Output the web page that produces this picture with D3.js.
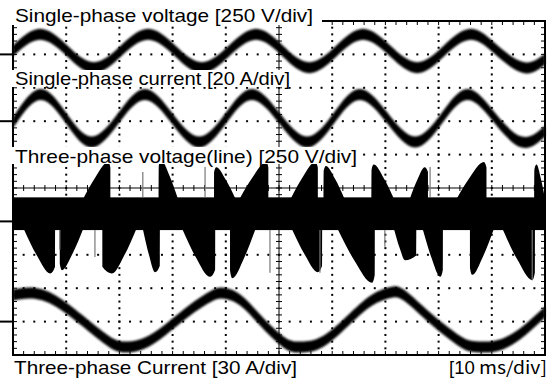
<!DOCTYPE html>
<html>
<head>
<meta charset="utf-8">
<script src="https://cdn.jsdelivr.net/npm/d3@7"></script>
<style>
  body { margin: 0; background: #fff; }
  svg { display: block; font-family: "Liberation Sans", Arial, sans-serif; }
</style>
</head>
<body>
<svg id="chart" width="555" height="380"></svg>
<script>
// 10 ms/div, 10 divisions across, 10 down
const timeDomain = [0, 100];

// single-phase voltage, V (250 V/div)
const ch1Time = [0, 5.1, 10.2, 15.2, 20.3, 25.4, 30.5, 35.5, 40.6, 45.7, 50.7, 55.7, 60.8, 65.8, 70.9, 76.0, 81.0, 86.1, 91.1, 96.2, 100];
const ch1Volt = [25, 150, 25, -100, 25, 150, 25, -100, 25, 150, 25, -100, 25, 150, 25, -100, 25, 150, 25, -100, -35];

// single-phase current, A (20 A/div)
const ch2Time = [0, 5.1, 10.0, 14.8, 19.8, 24.8, 29.9, 35.0, 40.0, 44.9, 50.1, 55.3, 60.3, 65.2, 70.4, 75.6, 80.6, 85.5, 90.6, 95.7, 100];
const ch2Amp = [-1, 16, 1.7, -12.5, 1.7, 16, 1.7, -12.5, 1.7, 16, 1.7, -12.5, 1.7, 16, 1.7, -12.5, 1.7, 16, 1.7, -12.5, -6];

// three-phase line voltage, V (250 V/div): solid PWM band plus lobes
const ch3Band = [-65, 180];
// [start ms, tip ms, end ms, tip V]
const ch3UpLobes = [
  [13.2, 17.9, 18.3, 445], [27.4, 27.8, 31.0, 460], [37.8, 38.2, 41.8, 405],
  [42.6, 47.6, 48.0, 445], [52.2, 56.8, 57.3, 445], [58.4, 58.8, 62.3, 415],
  [67.4, 67.8, 71.6, 425], [74.6, 77.4, 78.0, 405], [83.4, 88.5, 89.0, 445],
  [98.0, 98.4, 100, 425]
];
const ch3DownLobes = [
  [2.0, 7.0, 7.9, -390], [8.8, 9.2, 13.2, -365], [16.8, 18.6, 23.2, -390],
  [24.4, 26.7, 27.6, -380], [31.8, 37.0, 38.0, -415], [40.8, 41.2, 45.6, -425],
  [52.4, 57.3, 58.1, -380], [61.0, 67.5, 68.0, -460], [71.6, 73.7, 75.8, -290],
  [77.0, 80.3, 80.8, -415], [85.9, 86.3, 90.4, -400], [92.0, 97.6, 98.1, -440]
];
// thin grey switching spikes [ms, V from, V to]
const ch3Spikes = [
  [24.4, 180, 370], [36.1, 180, 408], [78.4, 180, 408],
  [8.8, -65, -213], [15.4, -65, -266], [48.3, -65, -385],
  [57.7, -65, -385], [69.9, -65, -190], [97.6, -65, -440]
];

// three-phase current, A (30 A/div)
const ch4Time = [0, 3.2, 7.0, 11.7, 16.4, 19.2, 21.6, 24.8, 28.6, 33.3, 37.0, 39.3, 42.7, 46.8, 51.1, 53.9, 57.3, 61.5, 66.2, 69.4, 71.4, 73.7, 78.4, 83.1, 85.9, 88.7, 91.5, 95.3, 100];
const ch4Amp = [23.9, 25.7, 21.2, 6.0, -12.0, -21.0, -22.8, -19.2, -7.5, 10.4, 22.1, 25.7, 19.4, -0.4, -19.2, -22.8, -20.1, -5.7, 14.9, 23.9, 26.6, 23.0, 3.2, -14.7, -21.9, -22.8, -21.0, -11.1, 8.6];

const channelNames = [
  'Single-phase voltage [250 V/div]',
  'Single-phase current [20 A/div]',
  'Three-phase voltage(line) [250 V/div]',
  'Three-phase Current [30 A/div]'
];
const channelPerDiv = [250, 20, 250, 30];
const channelZeroDiv = [1, 3, 6, 9];
const timeLabel = ['[10 ', 'ms/div]'];

// ---- layout
const plotLeft = 13, plotRight = 545, plotTop = 21, plotBottom = 355;
const nx = 10, ny = 10;
const divW = (plotRight - plotLeft) / nx, divH = (plotBottom - plotTop) / ny;

const svg = d3.select('#chart');
const x = d3.scaleLinear().domain(timeDomain).range([plotLeft, plotRight]);
const yFor = i => {
  const z = plotTop + channelZeroDiv[i] * divH;
  return d3.scaleLinear().domain([0, channelPerDiv[i]]).range([z, z - divH]);
};
const y1 = yFor(0), y2 = yFor(1), y3 = yFor(2), y4 = yFor(3);

const defs = svg.append('defs');
defs.append('filter').attr('id', 'fuzz').attr('x', -0.05).attr('y', -0.2).attr('width', 1.1).attr('height', 1.4)
  .append('feGaussianBlur').attr('stdDeviation', 0.9);
defs.append('filter').attr('id', 'soft')
  .append('feGaussianBlur').attr('stdDeviation', 0.5);

// ---- graticule dots
const dots = svg.append('g').attr('fill', '#000');
d3.range(1, ny).filter(k => k !== 5).forEach(k => {
  const yy = plotTop + k * divH;
  dots.selectAll(null).data(d3.range(1, nx * 5)).enter().append('rect')
    .attr('x', j => plotLeft + j * divW / 5 - 1).attr('y', yy - 1)
    .attr('width', 2).attr('height', 2);
});
d3.range(1, nx).filter(k => k !== 5).forEach(k => {
  const xx = plotLeft + k * divW;
  dots.selectAll(null).data(d3.range(1, ny * 5)).enter().append('rect')
    .attr('x', xx - 1).attr('y', j => plotTop + j * divH / 5 - 1)
    .attr('width', 2).attr('height', 2);
});

// centre cross with minor ticks
const cx = plotLeft + 5 * divW, cy = plotTop + 5 * divH;
const cross = svg.append('g').attr('stroke', '#000').attr('stroke-width', 1);
cross.append('line').attr('x1', plotLeft).attr('x2', plotRight).attr('y1', cy).attr('y2', cy);
cross.append('line').attr('x1', cx).attr('x2', cx).attr('y1', plotTop).attr('y2', plotBottom);
cross.selectAll(null).data(d3.range(1, nx * 5)).enter().append('line')
  .attr('x1', j => plotLeft + j * divW / 5).attr('x2', j => plotLeft + j * divW / 5)
  .attr('y1', cy - 3).attr('y2', cy + 3);
cross.selectAll(null).data(d3.range(1, ny * 5)).enter().append('line')
  .attr('y1', j => plotTop + j * divH / 5).attr('y2', j => plotTop + j * divH / 5)
  .attr('x1', cx - 3).attr('x2', cx + 3);

// ---- traces (noise band drawn as area)
function traceBand(ts, vs, y, half) {
  const pts = ts.map((t, i) => [t, vs[i]]);
  return d3.area()
    .x(d => x(d[0]))
    .y0(d => y(d[1]) + half)
    .y1(d => y(d[1]) - half)
    .curve(d3.curveNatural)(pts);
}
const traces = svg.append('g').attr('filter', 'url(#fuzz)');
[[ch1Time, ch1Volt, y1], [ch2Time, ch2Amp, y2], [ch4Time, ch4Amp, y4]].forEach(([ts, vs, y]) => {
  traces.append('path').attr('d', traceBand(ts, vs, y, 5.5)).attr('fill', '#000');
});

// three-phase PWM voltage
const ch3 = svg.append('g').attr('filter', 'url(#soft)');
ch3.append('rect')
  .attr('x', x(timeDomain[0])).attr('width', x(timeDomain[1]) - x(timeDomain[0]))
  .attr('y', y3(ch3Band[1])).attr('height', y3(ch3Band[0]) - y3(ch3Band[1]))
  .attr('fill', '#000');
const lobe = (d, base) => d3.line().x(p => x(p[0])).y(p => y3(p[1])).curve(d3.curveMonotoneX)(
  d[1] - d[0] > d[2] - d[1]
    ? [[d[0], base], [d[0] + (d[1] - d[0]) * 0.5, base + (d[3] - base) * 0.6], [d[1], d[3]], [d[2], base + (d[3] - base) * 0.85], [d[2] + 0.01, base]]
    : [[d[0] - 0.01, base], [d[0], base + (d[3] - base) * 0.85], [d[1], d[3]], [d[1] + (d[2] - d[1]) * 0.5, base + (d[3] - base) * 0.6], [d[2], base]]
) + 'Z';
ch3.selectAll('.up').data(ch3UpLobes).enter().append('path')
  .attr('d', d => lobe(d, ch3Band[1] - 10)).attr('fill', '#000');
ch3.selectAll('.down').data(ch3DownLobes).enter().append('path')
  .attr('d', d => lobe(d, ch3Band[0] + 10)).attr('fill', '#000');
ch3.selectAll('.spike').data(ch3Spikes).enter().append('line')
  .attr('x1', d => x(d[0])).attr('x2', d => x(d[0]))
  .attr('y1', d => y3(d[1])).attr('y2', d => y3(d[2]))
  .attr('stroke', '#777').attr('stroke-width', 1.2);

// ---- frame with inner ticks
const frame = svg.append('g').attr('stroke', '#000');
frame.append('rect').attr('x', plotLeft).attr('y', plotTop)
  .attr('width', plotRight - plotLeft).attr('height', plotBottom - plotTop)
  .attr('fill', 'none').attr('stroke-width', 2);
const fticks = frame.append('g').attr('stroke-width', 1);
d3.range(1, nx * 5).forEach(j => {
  const xx = plotLeft + j * divW / 5;
  fticks.append('line').attr('x1', xx).attr('x2', xx).attr('y1', plotTop).attr('y2', plotTop + 4);
  fticks.append('line').attr('x1', xx).attr('x2', xx).attr('y1', plotBottom).attr('y2', plotBottom - 4);
});
d3.range(1, ny * 5).forEach(j => {
  const yy = plotTop + j * divH / 5;
  fticks.append('line').attr('y1', yy).attr('y2', yy).attr('x1', plotLeft).attr('x2', plotLeft + 4);
  fticks.append('line').attr('y1', yy).attr('y2', yy).attr('x1', plotRight).attr('x2', plotRight - 4);
});

// channel ground markers
svg.append('g').selectAll('line').data(channelZeroDiv).enter().append('line')
  .attr('x1', 0).attr('x2', plotLeft)
  .attr('y1', d => plotTop + d * divH).attr('y2', d => plotTop + d * divH)
  .attr('stroke', '#000').attr('stroke-width', 2);

// ---- labels (white boxes knock out the screen behind them)
const labelPos = [
  { x: 15, y: 21.5, len: 298, box: [0, 0, 322, 25] },
  { x: 15, y: 84.5, len: 275, box: [0, 70, 293, 17] },
  { x: 15, y: 162.5, len: 342, box: [0, 147, 360, 17] },
  { x: 14, y: 374, len: 283, box: null }
];
const labels = svg.append('g');
channelNames.forEach((name, i) => {
  const p = labelPos[i];
  if (p.box) labels.append('rect').attr('x', p.box[0]).attr('y', p.box[1])
    .attr('width', p.box[2]).attr('height', p.box[3]).attr('fill', '#fff');
  labels.append('text').attr('x', p.x).attr('y', p.y)
    .attr('font-size', 19).attr('textLength', p.len).attr('lengthAdjust', 'spacingAndGlyphs')
    .text(name);
});
const tl = labels.append('text').attr('y', 374).attr('font-size', 19);
tl.append('tspan').attr('x', 449).attr('textLength', 31).attr('lengthAdjust', 'spacingAndGlyphs').text(timeLabel[0]);
tl.append('tspan').attr('x', 479).attr('font-family', '"Noto Sans CJK JP", sans-serif').attr('font-size', 17)
  .attr('textLength', 68).attr('lengthAdjust', 'spacingAndGlyphs').text(timeLabel[1]);
</script>
</body>
</html>
